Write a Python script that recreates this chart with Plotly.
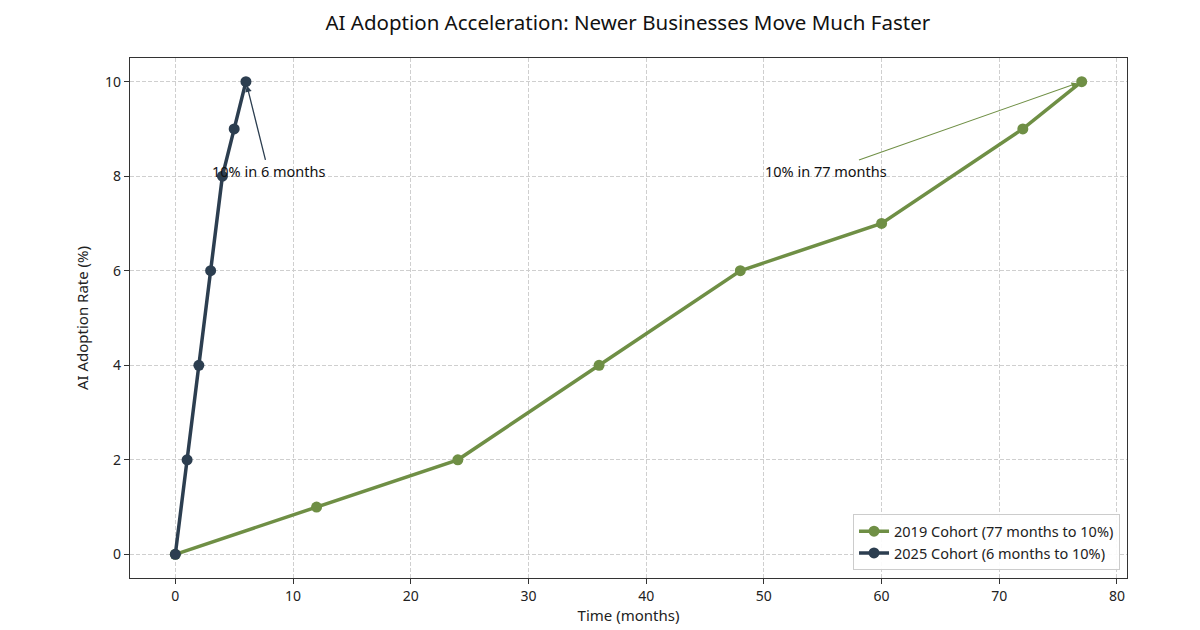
import plotly.graph_objects as go

months_2019 = [0, 12, 24, 36, 48, 60, 72, 77]
rate_2019 = [0, 1, 2, 4, 6, 7, 9, 10]
months_2025 = [0, 1, 2, 3, 4, 5, 6]
rate_2025 = [0, 2, 4, 6, 8, 9, 10]

name_2019 = "2019 Cohort (77 months to 10%)"
name_2025 = "2025 Cohort (6 months to 10%)"
green = "#6f8f45"
navy = "#2c3e50"
FONT = "Noto Sans"

fig = go.Figure()
fig.add_trace(go.Scatter(x=months_2019, y=rate_2019, mode="lines+markers", name=name_2019,
                         line=dict(color=green, width=3.5), marker=dict(size=11, color=green)))
fig.add_trace(go.Scatter(x=months_2025, y=rate_2025, mode="lines+markers", name=name_2025,
                         line=dict(color=navy, width=3.5), marker=dict(size=11, color=navy)))

fig.add_annotation(x=6, y=10, ax=7.9, ay=8.1, axref="x", ayref="y", xref="x", yref="y",
                   text="10% in 6 months", showarrow=True, arrowhead=2, arrowsize=1,
                   arrowwidth=1.3, arrowcolor=navy, standoff=4,
                   font=dict(family=FONT, size=14.5, color="#111"))
fig.add_annotation(x=77, y=10, ax=55.3, ay=8.1, axref="x", ayref="y", xref="x", yref="y",
                   text="10% in 77 months", showarrow=True, arrowhead=2, arrowsize=1,
                   arrowwidth=1.1, arrowcolor=green, standoff=5,
                   font=dict(family=FONT, size=14.5, color="#111"))

axis_common = dict(showline=True, linecolor="#333", linewidth=1.3, mirror=True,
                   ticks="outside", ticklen=5, tickcolor="#333",
                   showgrid=True, gridcolor="#cfcfcf", griddash="4px,2px", gridwidth=1,
                   zeroline=False, tickfont=dict(family=FONT, size=14, color="#222"))

fig.update_xaxes(range=[-3.85, 80.85], dtick=10, tick0=0,
                 title=dict(text="Time (months)", font=dict(family=FONT, size=15, color="#222"), standoff=4),
                 **axis_common)
fig.update_yaxes(range=[-0.5, 10.5], dtick=2, tick0=0,
                 title=dict(text="AI Adoption Rate (%)", font=dict(family=FONT, size=15, color="#222"), standoff=12),
                 **axis_common)

fig.update_layout(
    width=1192, height=622,
    paper_bgcolor="white", plot_bgcolor="white",
    margin=dict(l=122, r=73, t=50, b=52),
    title=dict(text="AI Adoption Acceleration: Newer Businesses Move Much Faster",
               x=0.520, xanchor="center", y=0.976, yanchor="middle",
               font=dict(family=FONT, size=20.5, color="#111")),
    legend=dict(x=0.993, y=0.015, xanchor="right", yanchor="bottom",
                bgcolor="rgba(255,255,255,0.9)", bordercolor="#cccccc", borderwidth=1,
                font=dict(family=FONT, size=14.5, color="#222"), tracegroupgap=0),
    showlegend=True,
)

fig.write_html("out.html")
